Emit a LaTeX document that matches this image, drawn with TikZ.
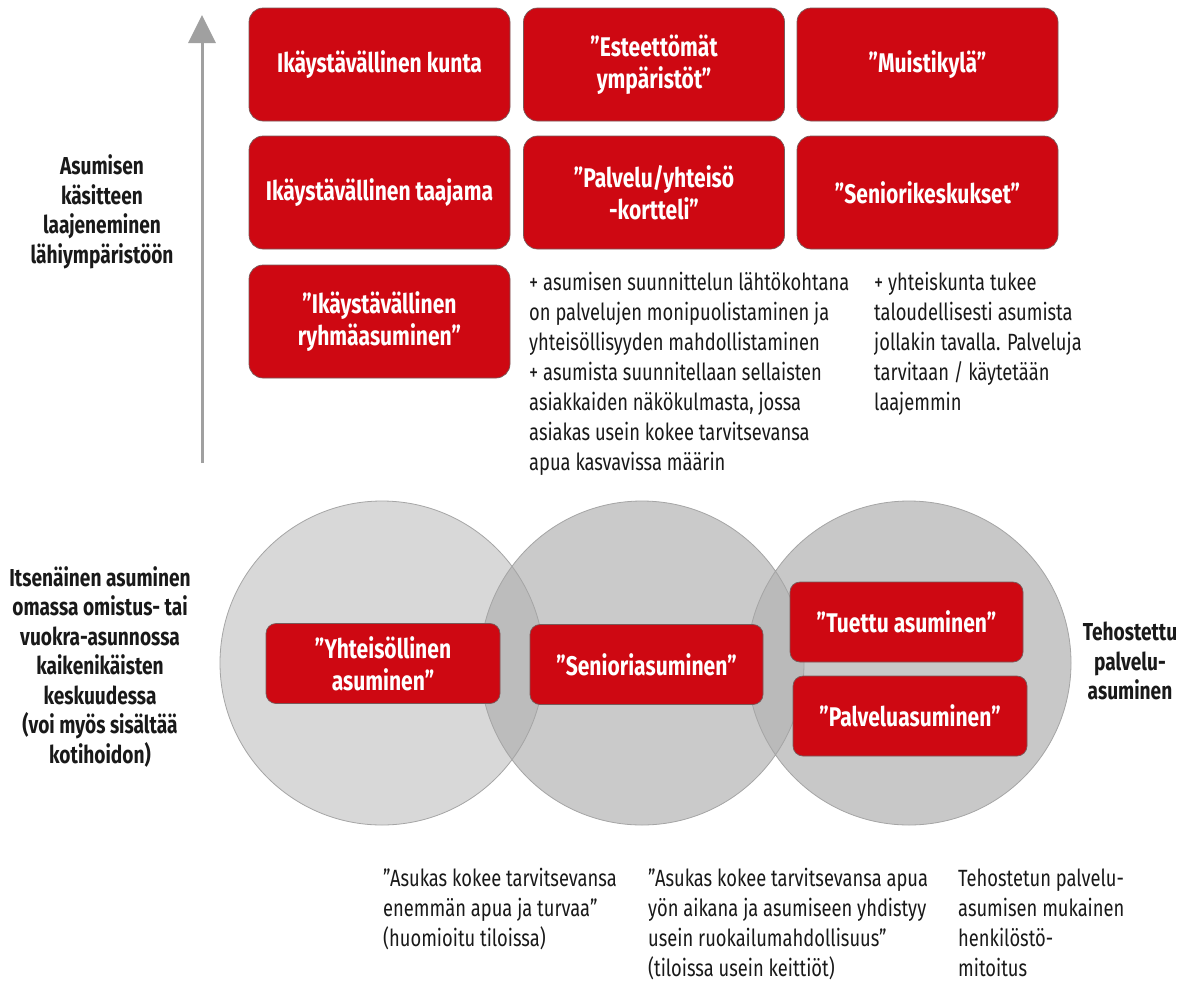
\documentclass[tikz,border=0pt]{standalone}
\usepackage{fontspec}
\setmainfont{Fira Sans}[FakeStretch=0.78]
\usetikzlibrary{arrows.meta}
\definecolor{boxred}{RGB}{206,8,18}
\definecolor{boxedge}{RGB}{120,90,90}
\definecolor{ink}{RGB}{25,25,25}
\definecolor{cA}{RGB}{216,216,216}
\definecolor{cB}{RGB}{202,202,202}
\definecolor{cC}{RGB}{200,200,200}
\definecolor{cAB}{RGB}{188,188,188}
\definecolor{cBC}{RGB}{186,186,186}
\definecolor{cedge}{RGB}{165,165,165}
\definecolor{arrowgray}{RGB}{160,160,160}
\tikzset{
  redbox/.style={rounded corners=14pt, fill=boxred, draw=boxedge, line width=0.7pt,
    text=white, font=\bfseries\fontsize{27}{32}\selectfont, align=center, inner sep=0pt,
    minimum width=261pt, minimum height=113pt},
  smallbox/.style={redbox, rounded corners=10pt, minimum width=234pt, minimum height=80pt},
  lbl/.style={text=ink, font=\bfseries\fontsize{24.5}{29.5}\selectfont, align=center, inner sep=0pt},
  body/.style={text=ink, font=\fontsize{23.5}{30}\selectfont, align=left, inner sep=0pt, anchor=base west},
}
\begin{document}
\begin{tikzpicture}[x=1pt,y=-1pt]
\useasboundingbox[fill=white] (0,0) rectangle (1188,980);

% circles
\coordinate (c1) at (382,663);
\coordinate (c2) at (642,663);
\coordinate (c3) at (909,663);
\fill[cA] (c1) circle (162);
\fill[cB] (c2) circle (162);
\fill[cC] (c3) circle (162);
\begin{scope}\clip (c1) circle (162); \fill[cAB] (c2) circle (162);\end{scope}
\begin{scope}\clip (c2) circle (162); \fill[cBC] (c3) circle (162);\end{scope}
\draw[cedge, line width=0.8pt] (c1) circle (162) (c2) circle (162) (c3) circle (162);

% arrow
\coordinate (abot) at (202,463);
\coordinate (atop) at (202,15);
\draw[arrowgray, line width=3pt, -{Triangle[length=28pt,width=27pt]}] (abot) -- (atop);

% top boxes
\node[redbox] (kunta) at (379.5,64.5) {Ikäystävällinen kunta};
\node[redbox] (este) at (654,64.5) {”Esteettömät\\ympäristöt”};
\node[redbox] (muisti) at (927.5,64.5) {”Muistikylä”};
\node[redbox] (taajama) at (379.5,192.5) {Ikäystävällinen taajama};
\node[redbox] (kortteli) at (654,192.5) {”Palvelu/yhteisö\\-kortteli”};
\node[redbox] (senkesk) at (927.5,192.5) {”Seniorikeskukset”};
\node[redbox] (ryhma) at (379.5,321.5) {”Ikäystävällinen\\ryhmäasuminen”};

% left label top
\node[lbl] (laaj) at (102,212) {Asumisen\\käsitteen\\laajeneminen\\lähiympäristöön};

% body texts (anchored at the baseline of their last line)
\node[body] (plus1) at (529,470) {+ asumisen suunnittelun lähtökohtana\\on palvelujen monipuolistaminen ja\\yhteisöllisyyden mahdollistaminen\\+ asumista suunnitellaan sellaisten\\asiakkaiden näkökulmasta, jossa\\asiakas usein kokee tarvitsevansa\\apua kasvavissa määrin};
\node[body] (plus2) at (874,410) {+ yhteiskunta tukee\\taloudellisesti asumista\\jollakin tavalla. Palveluja\\tarvitaan / käytetään\\laajemmin};

% bottom boxes
\node[smallbox] (yht) at (383,663.5) {”Yhteisöllinen\\asuminen”};
\node[smallbox, minimum width=233pt] (sen) at (646.5,664.5) {”Senioriasuminen”};
\node[smallbox, minimum width=233pt] (tuettu) at (906.5,622) {”Tuettu asuminen”};
\node[smallbox] (palv) at (910,716) {”Palveluasuminen”};

% side labels
\node[lbl] (itsen) at (100,667) {Itsenäinen asuminen\\omassa omistus- tai\\vuokra-asunnossa\\kaikenikäisten\\keskuudessa\\(voi myös sisältää\\kotihoidon)};
\node[lbl] (tehost) at (1130,661) {Tehostettu\\palvelu-\\asuminen};

% bottom texts
\node[body] (b1) at (383,946) {”Asukas kokee tarvitsevansa\\enemmän apua ja turvaa”\\(huomioitu tiloissa)};
\node[body] (b2) at (648,976) {”Asukas kokee tarvitsevansa apua\\yön aikana ja asumiseen yhdistyy\\usein ruokailumahdollisuus”\\(tiloissa usein keittiöt)};
\node[body] (b3) at (958,976) {Tehostetun palvelu-\\asumisen mukainen\\henkilöstö-\\mitoitus};
\end{tikzpicture}
\end{document}
